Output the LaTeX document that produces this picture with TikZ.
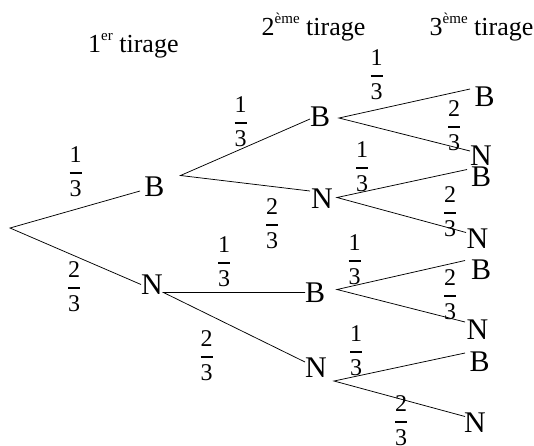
\documentclass[tikz,border=0pt]{standalone}
\usepackage{amsmath}
\usepackage{fontspec}
\setmainfont{Liberation Serif}
\newcommand{\prob}[2]{$\genfrac{}{}{2.2pt}{0}{\text{#1}}{\text{#2}}$}
\newcommand{\expo}[1]{\raisebox{0.45em}{\fontsize{15}{15}\selectfont #1}}

\begin{document}
\begin{tikzpicture}[x=1pt, y=-1pt,
  ball/.style={font=\fontsize{30}{30}\selectfont, inner sep=0pt, anchor=base},
  frac/.style={font=\fontsize{24}{24}\selectfont, inner sep=0pt},
  head/.style={font=\fontsize{26}{26}\selectfont, inner sep=0pt, anchor=base west},
  branch/.style={line width=0.75pt}]
  \useasboundingbox (0,0) rectangle (534,445);
  % titres
  \node[head] (t1) at (88,52.5) {1\expo{er} tirage};
  \node[head] (t2) at (261.5,35.5) {2\expo{ème} tirage};
  \node[head] (t3) at (429.5,35) {3\expo{ème} tirage};
  % premier tirage
  \coordinate (r) at (10,228);
  \node[ball] (B1) at (154.5,196.5) {B};
  \node[ball] (N1) at (152,294) {N};
  \coordinate (B1i) at (140,191);
  \coordinate (N1i) at (141,284.5);
  \coordinate (B1o) at (180.5,175.5);
  \coordinate (N1o) at (163.5,292.5);
  % second tirage
  \node[ball] (B2) at (320,126) {B};
  \node[ball] (N2) at (322,208) {N};
  \node[ball] (B3) at (315,302) {B};
  \node[ball] (N3) at (316,377.5) {N};
  \coordinate (B2i) at (310,119);
  \coordinate (N2i) at (310,191);
  \coordinate (B3i) at (305,292.5);
  \coordinate (N3i) at (305,362);
  \coordinate (B2o) at (339,118);
  \coordinate (N2o) at (337,197.5);
  \coordinate (B3o) at (337,289.5);
  \coordinate (N3o) at (334,381);
  % troisieme tirage
  \node[ball] (BB) at (484.5,106) {B};
  \node[ball] (BN) at (481,165) {N};
  \node[ball] (NB) at (481,186) {B};
  \node[ball] (NN) at (477.5,248) {N};
  \node[ball] (bB) at (481,279) {B};
  \node[ball] (bN) at (477.5,339) {N};
  \node[ball] (nB) at (479.5,371.5) {B};
  \node[ball] (nN) at (475,432.5) {N};
  \coordinate (BBi) at (470,89);
  \coordinate (BNi) at (470,151);
  \coordinate (NBi) at (467,169.5);
  \coordinate (NNi) at (466,232.5);
  \coordinate (bBi) at (465,260.5);
  \coordinate (bNi) at (465,322);
  \coordinate (nBi) at (465,353);
  \coordinate (nNi) at (465,416.5);
  % branches
  \draw[branch] (B1i) -- (r) -- (N1i);
  \draw[branch] (B2i) -- (B1o) -- (N2i);
  \draw[branch] (B3i) -- (N1o) -- (N3i);
  \draw[branch] (BBi) -- (B2o) -- (BNi);
  \draw[branch] (NBi) -- (N2o) -- (NNi);
  \draw[branch] (bBi) -- (B3o) -- (bNi);
  \draw[branch] (nBi) -- (N3o) -- (nNi);
  % probabilites
  \node[frac] (p1) at (75.5,172) {\prob{1}{3}};
  \node[frac] (p2) at (74,287) {\prob{2}{3}};
  \node[frac] (p3) at (240.5,122) {\prob{1}{3}};
  \node[frac] (p4) at (272,224) {\prob{2}{3}};
  \node[frac] (p5) at (224,261.5) {\prob{1}{3}};
  \node[frac] (p6) at (206.5,355.5) {\prob{2}{3}};
  \node[frac] (p7) at (376.5,75) {\prob{1}{3}};
  \node[frac] (p8) at (454,126) {\prob{2}{3}};
  \node[frac] (p9) at (362,167) {\prob{1}{3}};
  \node[frac] (p10) at (450,212) {\prob{2}{3}};
  \node[frac] (p11) at (354.5,260) {\prob{1}{3}};
  \node[frac] (p12) at (450,294.5) {\prob{2}{3}};
  \node[frac] (p13) at (356,351) {\prob{1}{3}};
  \node[frac] (p14) at (401,420.5) {\prob{2}{3}};
\end{tikzpicture}
\end{document}
